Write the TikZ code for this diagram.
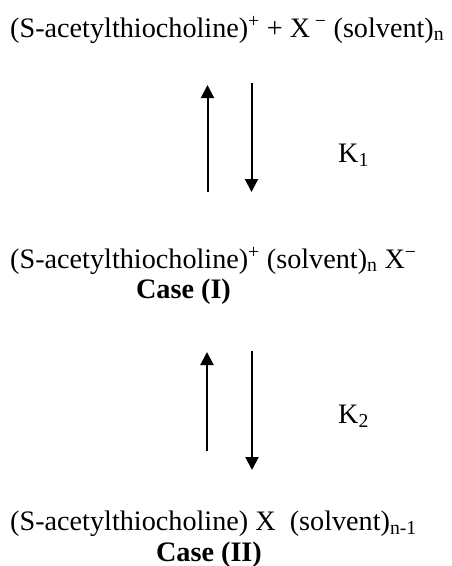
\documentclass[tikz,border=0pt]{standalone}
\usepackage{fontspec}
\setmainfont{Liberation Serif}
\usetikzlibrary{arrows.meta}
\begin{document}
\begin{tikzpicture}[x=1pt,y=-1pt,
  txt/.style={inner sep=0pt, font=\fontsize{28.2}{33}\selectfont},
  cas/.style={txt, font=\fontsize{28.2}{33}\selectfont\bfseries},
  rxn/.style={line width=2pt, -{Triangle[width=13pt,length=13pt]}}]
\useasboundingbox (0,0) rectangle (451,566);
\node[txt, anchor=base west] (l1) at (10,37) {(S-acetylthiocholine)\textsuperscript{+} + X\,\textsuperscript{−} (solvent)\textsubscript{n}};
\node[txt, anchor=base west] (l2) at (10,268) {(S-acetylthiocholine)\textsuperscript{+} (solvent)\textsubscript{n} X\textsuperscript{−}};
\node[cas, anchor=base] (c1) at (183.5,298) {Case (I)};
\node[txt, anchor=base west] (l3) at (10,530) {(S-acetylthiocholine) X\ \ (solvent)\textsubscript{n-1}};
\node[cas, anchor=base] (c2) at (209,561) {Case (II)};
\node[txt, anchor=base west] (k1) at (338,162) {K\textsubscript{1}};
\node[txt, anchor=base west] (k2) at (338,423) {K\textsubscript{2}};
\coordinate (u1s) at (207.5,192); \coordinate (u1e) at (207.5,85);
\coordinate (d1s) at (251.5,83);  \coordinate (d1e) at (251.5,192);
\coordinate (u2s) at (207,451);   \coordinate (u2e) at (207,352);
\coordinate (d2s) at (252,351);   \coordinate (d2e) at (252,470);
\draw[rxn] (u1s) -- (u1e);
\draw[rxn] (d1s) -- (d1e);
\draw[rxn] (u2s) -- (u2e);
\draw[rxn] (d2s) -- (d2e);
\end{tikzpicture}
\end{document}
